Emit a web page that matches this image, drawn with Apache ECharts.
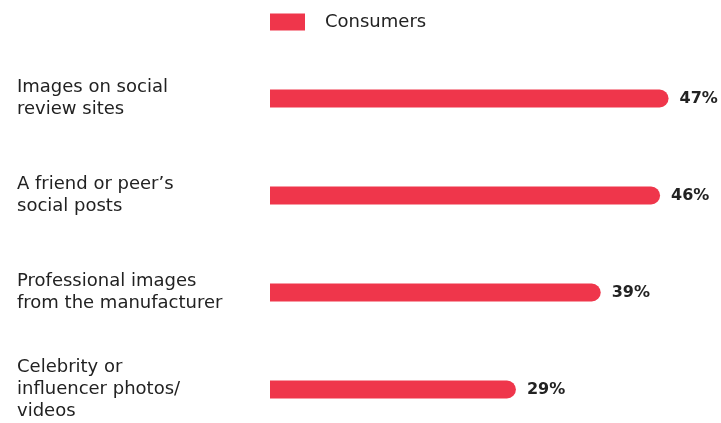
<!DOCTYPE html>
<html>
<head>
<meta charset="utf-8">
<script src="https://cdn.jsdelivr.net/npm/echarts@6/dist/echarts.min.js"></script>
<style>
  html, body { margin: 0; padding: 0; background: #ffffff; }
  #chart { width: 721px; height: 423px; }
</style>
</head>
<body>
<div id="chart"></div>
<script>
const categories = [
  "Images on social\nreview sites",
  "A friend or peer\u2019s\nsocial posts",
  "Professional images\nfrom the manufacturer",
  "Celebrity or\ninfluencer photos/\nvideos"
];
const seriesName = "Consumers";
const consumerValues = [47, 46, 39, 29];

const chart = echarts.init(document.getElementById('chart'), null, { renderer: 'canvas' });
const FONT = "'DejaVu Sans', sans-serif";
chart.setOption({
  animation: false,
  backgroundColor: '#ffffff',
  legend: {
    data: [seriesName],
    left: 270,
    top: 13,
    padding: 0,
    itemWidth: 35,
    itemHeight: 17,
    itemGap: 10,
    icon: 'rect',
    textStyle: { fontFamily: FONT, fontSize: 18, color: '#222222', padding: [0, 0, 0, 15] }
  },
  grid: { left: 270, right: 27, top: 50, height: 388, outerBoundsMode: 'none', containLabel: false },
  xAxis: {
    type: 'value',
    min: 0,
    max: 50,
    show: false
  },
  yAxis: {
    type: 'category',
    data: categories,
    inverse: true,
    axisLine: { show: false },
    axisTick: { show: false },
    splitLine: { show: false },
    axisLabel: {
      align: 'left',
      margin: 253,
      fontFamily: FONT,
      fontSize: 18,
      lineHeight: 22,
      color: '#222222'
    }
  },
  series: [{
    name: seriesName,
    type: 'bar',
    data: consumerValues,
    barWidth: 18,
    itemStyle: { color: '#EF364B', borderRadius: [0, 9, 9, 0] },
    label: {
      show: true,
      position: 'right',
      distance: 11,
      formatter: '{c}%',
      fontFamily: FONT,
      fontSize: 16,
      fontWeight: 'bold',
      color: '#222222'
    }
  }]
});
</script>
</body>
</html>
